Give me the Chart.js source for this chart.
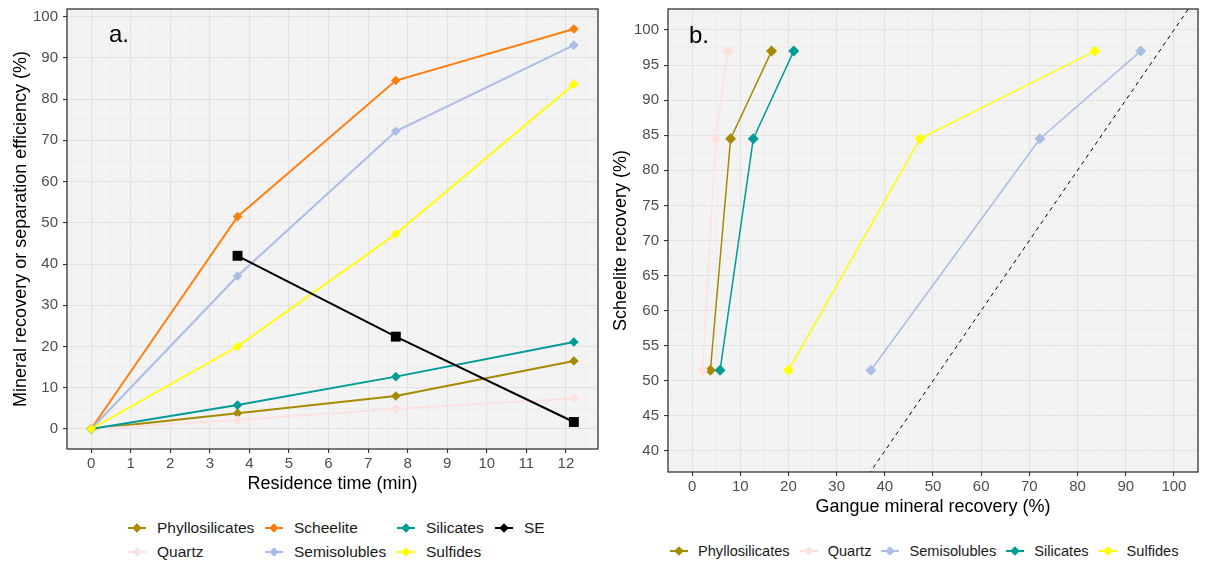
<!DOCTYPE html>
<html>
<head>
<meta charset="utf-8">
<script src="https://cdn.jsdelivr.net/npm/chart.js@4.4.1/dist/chart.umd.min.js"></script>
<style>
  body { margin: 0; background: #fff; font-family: "Liberation Sans", Arial, sans-serif; }
  #wrap { position: relative; width: 1210px; height: 563px; overflow: hidden; }
  .panel { position: absolute; top: 0; }
  #boxA { left: 0; width: 605px; height: 500px; }
  #boxB { left: 605px; width: 605px; height: 520px; }
  .legend { position: absolute; color: #1a1a1a; }
  #legendA { left: 128px; top: 516px; font-size: 15.5px; display: grid; grid-auto-flow: column;
             grid-template-rows: 24px 24px; grid-template-columns: 137px 132px 98px auto; }
  #legendB { left: 670px; top: 539px; font-size: 14.6px; display: flex; gap: 10px; }
  .item { display: flex; align-items: center; height: 24px; white-space: nowrap; }
  .key { position: relative; width: 18px; height: 18px; margin-right: 11px; flex: none; }
  #legendB .key { margin-right: 10px; }
  .key .ln { position: absolute; left: 0; right: 0; top: 8px; height: 2px; }
  .key .dm { position: absolute; left: 5px; top: 5px; width: 8px; height: 8px; transform: rotate(45deg) scale(0.85); }
</style>
</head>
<body>
<div id="wrap">
  <div class="panel" id="boxA"><canvas id="chartA" width="605" height="500"></canvas></div>
  <div class="panel" id="boxB"><canvas id="chartB" width="605" height="520"></canvas></div>
  <div class="legend" id="legendA"></div>
  <div class="legend" id="legendB"></div>
</div>
<script>
// ------- Data -------
const timeMin = [0, 3.7, 7.7, 12.2];          // residence time (min)
const seTime = [3.7, 7.7, 12.2];
const phyllosilicates = [0, 3.8, 8.0, 16.5];
const quartz = [0, 2.2, 4.9, 7.4];
const scheelite = [0, 51.5, 84.5, 97.0];
const semisolubles = [0, 37.1, 72.2, 93.1];
const silicates = [0, 5.8, 12.7, 21.1];
const sulfides = [0, 20.0, 47.3, 83.6];
const separationEff = [42.0, 22.4, 1.7];     // SE (%)
const identityLine = [0, 110];               // y = x reference in panel b

const mineralNames = ["Phyllosilicates", "Quartz", "Scheelite", "Semisolubles", "Silicates", "Sulfides"];
const mineralColors = ["#A68A00", "#FFE0E0", "#FF7F0E", "#A9BDE6", "#009C97", "#FFFF00"];
const mineralValues = [phyllosilicates, quartz, scheelite, semisolubles, silicates, sulfides];
const seColor = "#000000";

// tick labels
const xTicksA = [0, 1, 2, 3, 4, 5, 6, 7, 8, 9, 10, 11, 12];
const yTicksA = [0, 10, 20, 30, 40, 50, 60, 70, 80, 90, 100];
const xTicksB = [0, 10, 20, 30, 40, 50, 60, 70, 80, 90, 100];
const yTicksB = [40, 45, 50, 55, 60, 65, 70, 75, 80, 85, 90, 95, 100];

Chart.defaults.font.family = '"Liberation Sans", Arial, sans-serif';

// ------- Helpers -------
function makeScale({ min, max, majors, title, titlePad, size, vertical }) {
  const majorSet = new Set(majors);
  const step = majors[1] - majors[0];
  const all = majors.slice();
  for (let k = 0; k <= majors.length; k++) {
    const v = majors[0] - step / 2 + k * step;
    if (v > min && v < max) all.push(v);
  }
  all.sort((a, b) => a - b);
  const isMajor = (c) => c.tick && majorSet.has(c.tick.value);
  return {
    type: "linear",
    min, max,
    afterBuildTicks: (s) => { s.ticks = all.map((v) => ({ value: v })); },
    ticks: {
      autoSkip: false, maxRotation: 0, minRotation: 0,
      padding: vertical ? 5 : 2,
      color: "#4D4D4D",
      font: { size: 15 },
      callback: (v) => (majorSet.has(v) ? String(v) : ""),
    },
    grid: {
      color: (c) => (isMajor(c) ? "#E2E2E2" : "#EBEBEB"),
      lineWidth: (c) => (isMajor(c) ? 1.1 : 0.8),
      tickLength: 4,
      tickColor: (c) => (isMajor(c) ? "#333333" : "rgba(0,0,0,0)"),
    },
    border: { display: false },
    title: { display: true, text: title, color: "#000", font: { size: 18 }, padding: titlePad },
    afterFit: (s) => {
      if (vertical) { s.width = size; s.paddingTop = 0; s.paddingBottom = 0; }
      else { s.height = size; s.paddingLeft = 0; s.paddingRight = 0; }
    },
  };
}

const panelFrame = {
  id: "panelFrame",
  beforeDraw(chart, args, opts) {
    const { ctx, chartArea: a } = chart;
    ctx.save();
    ctx.fillStyle = "#F3F3F3";
    ctx.fillRect(a.left, a.top, a.width, a.height);
    ctx.restore();
  },
  afterDraw(chart, args, opts) {
    const { ctx, chartArea: a } = chart;
    ctx.save();
    ctx.strokeStyle = "#333333";
    ctx.lineWidth = 1.3;
    ctx.strokeRect(a.left, a.top, a.width, a.height);
    ctx.fillStyle = "#000";
    ctx.font = '24px "Liberation Sans", Arial, sans-serif';
    ctx.textBaseline = "alphabetic";
    ctx.fillText(opts.label, a.left + opts.dx, a.top + opts.dy);
    ctx.restore();
  },
};

function lineSet(label, color, points, width, style, radius, order) {
  return {
    label, data: points, showLine: true, order,
    borderColor: color, backgroundColor: color,
    borderWidth: width, tension: 0,
    pointStyle: style, pointRadius: radius, pointHoverRadius: radius,
    pointBorderWidth: 0,
  };
}

// ------- Panel a -------
const dsA = mineralNames.map((name, i) =>
  lineSet(name, mineralColors[i], timeMin.map((t, j) => ({ x: t, y: mineralValues[i][j] })), 2, "rectRot", 4.8, 20 - i));
dsA.push(lineSet("SE", seColor, seTime.map((t, j) => ({ x: t, y: separationEff[j] })), 2, "rect", 7, 1));

new Chart(document.getElementById("chartA"), {
  type: "scatter",
  data: { datasets: dsA },
  plugins: [panelFrame],
  options: {
    responsive: false, animation: false, devicePixelRatio: 1,
    layout: { padding: { top: 9, right: 7, left: 0, bottom: 0 } },
    plugins: {
      legend: { display: false }, tooltip: { enabled: false },
      panelFrame: { label: "a.", dx: 42, dy: 33 },
    },
    scales: {
      x: makeScale({ min: -0.61, max: 12.81, majors: xTicksA, title: "Residence time (min)",
                     titlePad: { top: 0, bottom: 5 }, size: 51, vertical: false }),
      y: makeScale({ min: -4.85, max: 101.85, majors: yTicksA,
                     title: "Mineral recovery or separation efficiency (%)",
                     titlePad: { top: 10, bottom: 0 }, size: 67, vertical: true }),
    },
  },
});

// ------- Panel b -------
const gangueIdx = [0, 1, 3, 4, 5];
const dsB = gangueIdx.map((i, k) =>
  lineSet(mineralNames[i], mineralColors[i],
    [1, 2, 3].map((j) => ({ x: mineralValues[i][j], y: scheelite[j] })), 1.5, "rectRot", 5.5, 20 - k));
dsB.push({
  label: "y = x", data: identityLine.map((v) => ({ x: v, y: v })), showLine: true, order: 0,
  borderColor: "#000", borderWidth: 1, borderDash: [4, 4], pointRadius: 0, pointHoverRadius: 0,
});

new Chart(document.getElementById("chartB"), {
  type: "scatter",
  data: { datasets: dsB },
  plugins: [panelFrame],
  options: {
    responsive: false, animation: false, devicePixelRatio: 1,
    layout: { padding: { top: 9, right: 12, left: 0, bottom: 0 } },
    plugins: {
      legend: { display: false }, tooltip: { enabled: false },
      panelFrame: { label: "b.", dx: 21, dy: 34 },
    },
    scales: {
      x: makeScale({ min: -5, max: 105, majors: xTicksB, title: "Gangue mineral recovery (%)",
                     titlePad: { top: 0, bottom: 2 }, size: 48, vertical: false }),
      y: makeScale({ min: 37, max: 103, majors: yTicksB, title: "Scheelite recovery (%)",
                     titlePad: { top: 5, bottom: 0 }, size: 63, vertical: true }),
    },
  },
});

// ------- Legends -------
function legendItem(name, color) {
  const el = document.createElement("div");
  el.className = "item";
  el.innerHTML = `<span class="key"><span class="ln" style="background:${color}"></span>` +
                 `<span class="dm" style="background:${color}"></span></span><span>${name}</span>`;
  return el;
}
const legendA = document.getElementById("legendA");
mineralNames.forEach((n, i) => legendA.appendChild(legendItem(n, mineralColors[i])));
legendA.appendChild(legendItem("SE", seColor));
const legendB = document.getElementById("legendB");
gangueIdx.forEach((i) => legendB.appendChild(legendItem(mineralNames[i], mineralColors[i])));
</script>
</body>
</html>
